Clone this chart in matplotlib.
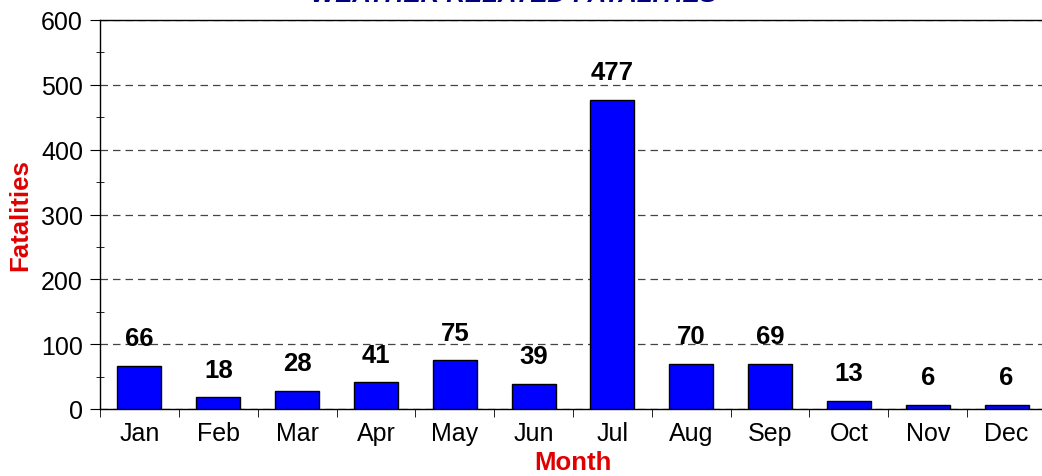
import matplotlib
matplotlib.use("Agg")
import matplotlib.pyplot as plt
import numpy as np

months = ["Jan", "Feb", "Mar", "Apr", "May", "Jun", "Jul", "Aug", "Sep", "Oct", "Nov", "Dec"]
fatalities = [66, 18, 28, 41, 75, 39, 477, 70, 69, 13, 6, 6]

plt.rcParams['font.family'] = ['Liberation Sans', 'DejaVu Sans']

fig = plt.figure(figsize=(10.42, 4.77), dpi=100)
ax = fig.add_axes([100 / 1042, 67 / 477, 946 / 1042, 389 / 477])

x = np.arange(len(months))
ax.bar(x, fatalities, width=0.56, color="#0000ff", edgecolor="black", linewidth=1, zorder=3)

# value labels above bars
for xi, v in zip(x, fatalities):
    ax.annotate(str(v), (xi, v), xytext=(0, 20), textcoords="offset points",
                ha="center", va="center", fontsize=18.5, fontweight="bold")

ax.set_xlim(-0.5, len(months) - 0.5)
ax.set_ylim(0, 600)
ax.set_yticks(range(0, 601, 100))
ax.set_yticks(range(50, 600, 100), minor=True)
ax.tick_params(axis="y", which="major", direction="out", length=7.2, labelsize=18, pad=5)
ax.tick_params(axis="y", which="minor", direction="inout", length=6)
ax.set_xticks(x)
ax.set_xticklabels(months)
ax.set_xticks(np.arange(-0.5, len(months) - 0.5, 1), minor=True)
ax.tick_params(axis="x", which="major", length=0, labelsize=18, pad=9)
ax.tick_params(axis="x", which="minor", direction="out", length=6)

ax.grid(axis="y", which="major", linestyle=(0, (6, 4)), color="#444444", linewidth=0.9, zorder=0)
for s in ax.spines.values():
    s.set_linewidth(1)

ax.set_ylabel("Fatalities", color="#e00000", fontsize=18.5, fontweight="bold", labelpad=6)
ax.set_xlabel("Month", color="#e00000", fontsize=18.5, fontweight="bold", labelpad=3)

fig.text(0.493, 1 - 2 / 477, "WEATHER RELATED FATALITIES", ha="center", va="baseline",
         color="#000080", fontsize=18.5, fontweight="bold", fontstyle="italic")

fig.savefig("out.png", dpi=100)
